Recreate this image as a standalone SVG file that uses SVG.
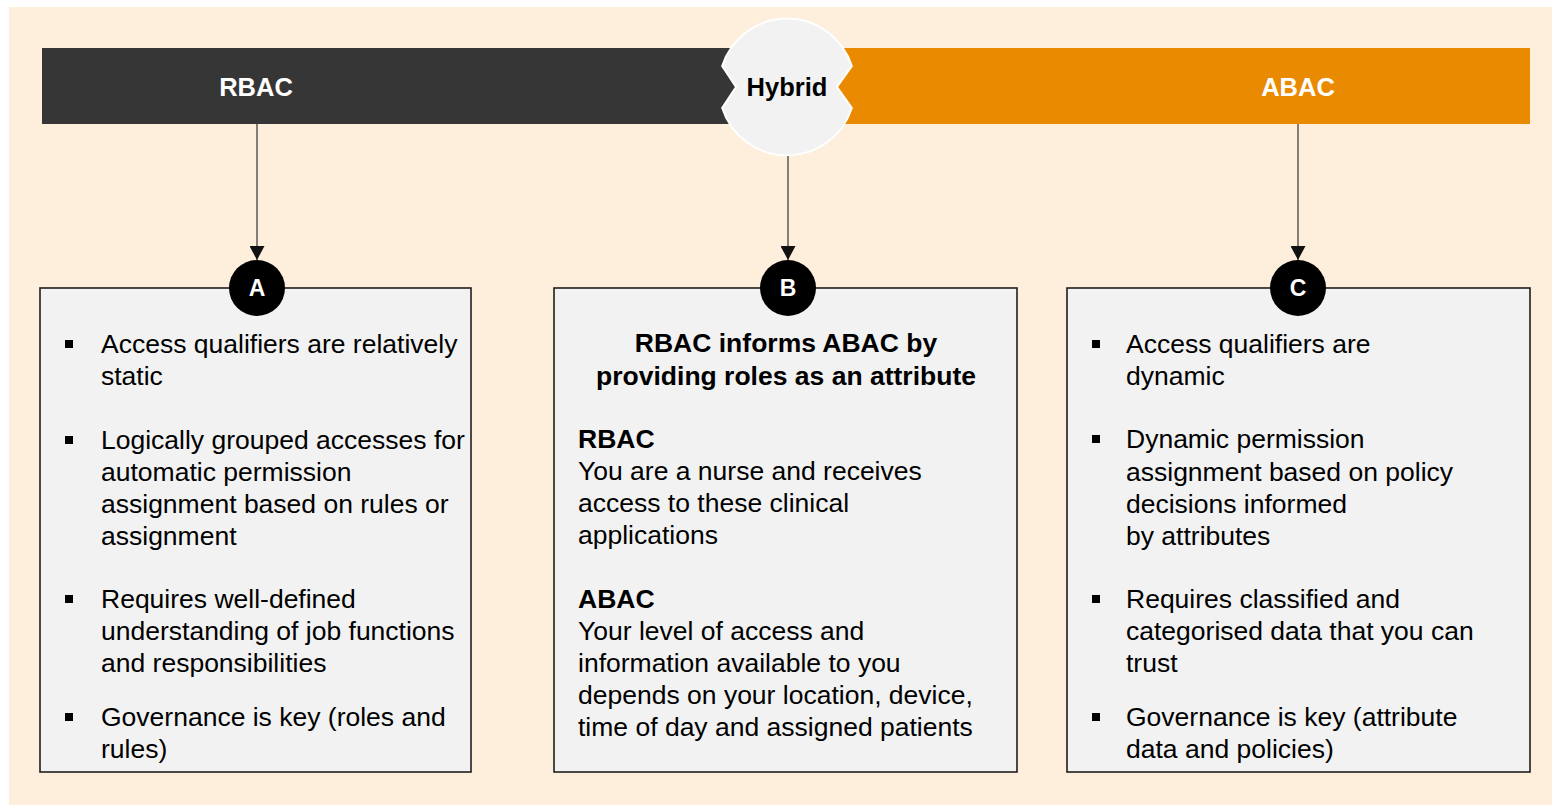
<svg xmlns="http://www.w3.org/2000/svg" width="1552" height="805" viewBox="0 0 1552 805">
<style>
  text { font-family: "Liberation Sans", Arial, sans-serif; }
  .bar { font-size: 25.5px; font-weight: bold; fill: #ffffff; text-anchor: middle; }
  .hy { font-size: 25.5px; font-weight: bold; fill: #000000; text-anchor: middle; }
  .box { fill: #f2f2f2; stroke: #1e1e1e; stroke-width: 1.6; }
  .t { font-size: 26.5px; fill: #000000; }
  .tb { font-size: 26.5px; font-weight: bold; fill: #000000; }
  .badge { fill: #000000; }
  .bl { font-size: 23px; font-weight: bold; fill: #ffffff; text-anchor: middle; }
  .blt { fill: #000000; }
  .conn { stroke: #333333; stroke-width: 1.2; fill: none; marker-end: url(#arr); }
</style>
<defs>
  <marker id="arr" viewBox="0 0 14 15" refX="14" refY="7.5" markerWidth="14" markerHeight="15" markerUnits="userSpaceOnUse" orient="auto">
    <path d="M0,0 L14,7.5 L0,15 Z" fill="#111111"/>
  </marker>
</defs>
<rect x="9" y="7" width="1543" height="798" fill="#fdefdc"/>

<g id="bar-rbac">
  <rect x="42" y="48" width="745" height="76" fill="#363636"/>
  <text class="bar" x="256" y="96">RBAC</text>
</g>
<g id="bar-abac">
  <rect x="787" y="48" width="743" height="76" fill="#ea8a00"/>
  <text class="bar" x="1298" y="96">ABAC</text>
</g>
<g id="hybrid">
  <path d="M722.2,66 A68,68 0 0 1 851.8,66 L837,87 L851.8,108 A68,68 0 0 1 722.2,108 L736,87 Z" fill="#f2f2f2" stroke="#ffffff" stroke-width="2"/>
  <text class="hy" x="787" y="96">Hybrid</text>
</g>

<g id="connectors">
  <line class="conn" x1="257" y1="124" x2="257" y2="260"/>
  <line class="conn" x1="788" y1="156" x2="788" y2="260"/>
  <line class="conn" x1="1298" y1="124" x2="1298" y2="260"/>
</g>

<g id="box-a">
  <rect class="box" x="40" y="288" width="431" height="484"/>
  <circle class="badge" cx="257" cy="288" r="28"/>
  <text class="bl" x="257" y="296">A</text>
  <rect class="blt" x="65" y="340" width="8" height="8"/>
  <text class="t" x="101" y="353">Access qualifiers are relatively</text>
  <text class="t" x="101" y="385">static</text>
  <rect class="blt" x="65" y="436" width="8" height="8"/>
  <text class="t" x="101" y="449">Logically grouped accesses for</text>
  <text class="t" x="101" y="481">automatic permission</text>
  <text class="t" x="101" y="513">assignment based on rules or</text>
  <text class="t" x="101" y="545">assignment</text>
  <rect class="blt" x="65" y="595" width="8" height="8"/>
  <text class="t" x="101" y="608">Requires well-defined</text>
  <text class="t" x="101" y="640">understanding of job functions</text>
  <text class="t" x="101" y="672">and responsibilities</text>
  <rect class="blt" x="65" y="713" width="8" height="8"/>
  <text class="t" x="101" y="726">Governance is key (roles and</text>
  <text class="t" x="101" y="758">rules)</text>
</g>

<g id="box-b">
  <rect class="box" x="554" y="288" width="463" height="484"/>
  <circle class="badge" cx="788" cy="288" r="28"/>
  <text class="bl" x="788" y="296">B</text>
  <text class="tb" x="786" y="352" text-anchor="middle">RBAC informs ABAC by</text>
  <text class="tb" x="786" y="385" text-anchor="middle">providing roles as an attribute</text>
  <text class="tb" x="578" y="448">RBAC</text>
  <text class="t" x="578" y="480">You are a nurse and receives</text>
  <text class="t" x="578" y="512">access to these clinical</text>
  <text class="t" x="578" y="544">applications</text>
  <text class="tb" x="578" y="608">ABAC</text>
  <text class="t" x="578" y="640">Your level of access and</text>
  <text class="t" x="578" y="672">information available to you</text>
  <text class="t" x="578" y="704">depends on your location, device,</text>
  <text class="t" x="578" y="736">time of day and assigned patients</text>
</g>

<g id="box-c">
  <rect class="box" x="1067" y="288" width="463" height="484"/>
  <circle class="badge" cx="1298" cy="288" r="28"/>
  <text class="bl" x="1298" y="296">C</text>
  <rect class="blt" x="1092" y="340" width="8" height="8"/>
  <text class="t" x="1126" y="353">Access qualifiers are</text>
  <text class="t" x="1126" y="385">dynamic</text>
  <rect class="blt" x="1092" y="435" width="8" height="8"/>
  <text class="t" x="1126" y="448">Dynamic permission</text>
  <text class="t" x="1126" y="481">assignment based on policy</text>
  <text class="t" x="1126" y="513">decisions informed</text>
  <text class="t" x="1126" y="545">by attributes</text>
  <rect class="blt" x="1092" y="595" width="8" height="8"/>
  <text class="t" x="1126" y="608">Requires classified and</text>
  <text class="t" x="1126" y="640">categorised data that you can</text>
  <text class="t" x="1126" y="672">trust</text>
  <rect class="blt" x="1092" y="713" width="8" height="8"/>
  <text class="t" x="1126" y="726">Governance is key (attribute</text>
  <text class="t" x="1126" y="758">data and policies)</text>
</g>
</svg>
